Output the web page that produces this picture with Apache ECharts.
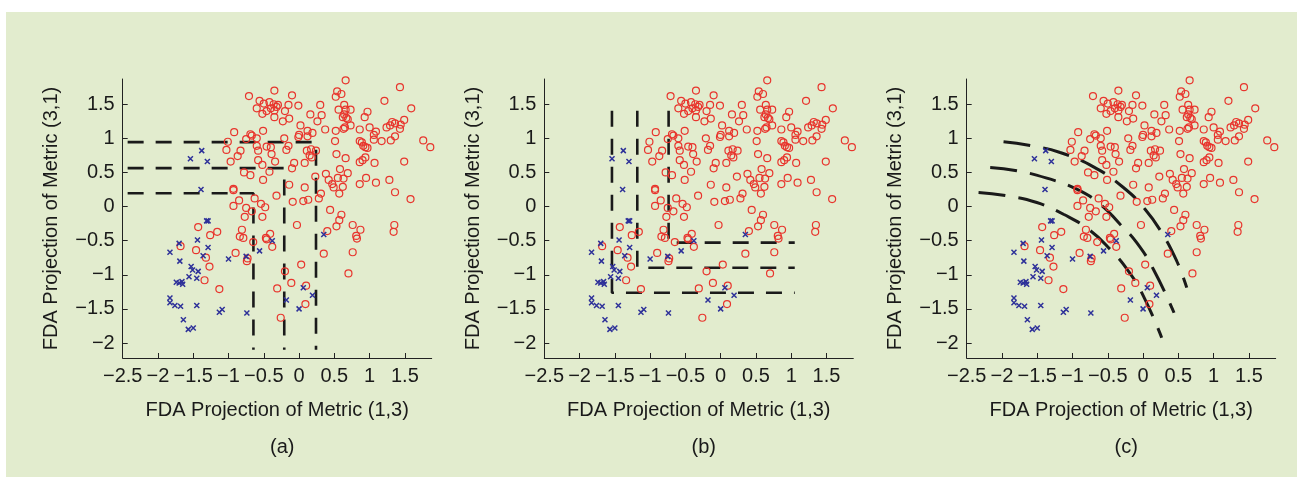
<!DOCTYPE html>
<html>
<head>
<meta charset="utf-8">
<script src="https://cdn.jsdelivr.net/npm/echarts@6/dist/echarts.min.js"></script>
<style>
  html, body { margin: 0; padding: 0; background: #fff; }
  #bg { position: absolute; left: 6px; top: 12px; width: 1291px; height: 465px; background: #e2ecce; }
  #chart { position: absolute; left: 0; top: 0; width: 1297px; height: 477px; }
</style>
</head>
<body>
<div id="bg"></div>
<div id="chart"></div>
<script>
// tick labels
const xTicks = [-2.5, -2, -1.5, -1, -0.5, 0, 0.5, 1, 1.5]
const yTicks = [-2, -1.5, -1, -0.5, 0, 0.5, 1, 1.5]
const panelNames = ['(a)', '(b)', '(c)']

// class 1 (red circles)
const redPoints = [
  [0.66,1.85],[1.43,1.75],[-0.35,1.70],[-0.71,1.62],[-0.10,1.63],[0.54,1.69],[0.60,1.65],[0.52,1.61],[1.21,1.55],[-0.56,1.55],
  [-0.50,1.51],[-0.42,1.53],[-0.36,1.50],[-0.30,1.49],[-0.32,1.46],[-0.15,1.49],[-0.01,1.48],[-0.60,1.44],[-0.52,1.36],[-0.46,1.40],
  [-0.40,1.44],[-0.35,1.41],[-0.20,1.40],[-0.35,1.31],[-0.23,1.25],[-0.14,1.29],[0.16,1.35],[0.30,1.49],[0.32,1.34],[0.26,1.25],
  [1.59,1.44],[0.56,1.42],[0.64,1.49],[0.66,1.42],[0.73,1.42],[0.64,1.35],[0.62,1.31],[0.67,1.30],[0.69,1.28],[0.73,1.19],
  [0.65,1.16],[0.63,1.14],[0.97,1.39],[0.93,1.31],[0.02,1.19],[0.37,1.13],[0.52,1.11],[0.12,1.11],[0.19,1.08],[0.12,1.03],
  [0.00,1.05],[-0.01,1.02],[0.51,0.96],[0.86,1.13],[1.00,1.16],[1.09,1.10],[1.06,1.05],[1.06,0.98],[1.17,0.96],[1.24,1.16],
  [1.32,1.24],[1.36,1.22],[1.29,1.19],[1.44,1.20],[1.43,1.14],[1.49,1.27],[1.36,1.03],[1.30,0.97],[1.76,0.97],[1.86,0.87],
  [-0.92,1.09],[-0.69,1.06],[-0.67,1.04],[-0.51,1.11],[-0.75,0.99],[-0.60,1.00],[-0.21,1.00],[0.86,0.96],[0.91,0.89],[0.94,0.87],
  [0.97,0.86],[0.89,0.94],[-1.01,0.95],[-1.03,0.83],[-0.83,0.82],[-0.87,0.74],[-0.97,0.66],[-0.60,0.89],[-0.58,0.82],[-0.46,0.88],
  [-0.40,0.87],[-0.39,0.77],[-0.15,0.89],[-0.18,0.83],[0.11,0.82],[0.17,0.84],[0.15,0.75],[0.18,0.72],[0.24,0.82],[0.53,0.77],
  [0.66,0.71],[-0.58,0.68],[-0.52,0.61],[-0.34,0.66],[-0.07,0.64],[0.08,0.64],[-0.10,0.56],[0.86,0.65],[0.90,0.68],[0.94,0.72],
  [1.07,0.64],[1.49,0.66],[-0.78,0.50],[-0.69,0.46],[-0.42,0.51],[-0.51,0.39],[-0.14,0.32],[0.23,0.44],[0.38,0.48],[0.42,0.39],
  [0.47,0.33],[0.49,0.28],[0.55,0.42],[0.63,0.41],[0.69,0.49],[0.62,0.29],[0.58,0.55],[0.95,0.42],[0.86,0.33],[1.09,0.35],
  [1.28,0.39],[-0.93,0.26],[-0.93,0.24],[0.08,0.28],[-0.32,0.16],[0.57,0.19],[1.36,0.21],[1.58,0.11],[-0.85,0.09],[-0.63,0.12],
  [-0.93,0.01],[-0.75,-0.02],[-0.67,-0.07],[-0.54,0.04],[-0.48,-0.01],[-0.52,-0.15],[-0.77,-0.15],[-0.09,0.07],[0.06,0.08],[0.13,0.10],
  [0.31,0.19],[0.28,0.12],[0.44,-0.05],[0.60,-0.12],[0.57,-0.20],[-1.43,-0.30],[-1.26,-0.42],[-1.16,-0.37],[-0.84,-0.44],[-0.81,-0.34],
  [-0.79,-0.46],[-0.65,-0.52],[-0.47,-0.46],[-0.46,-0.48],[-0.41,-0.40],[-0.38,-0.59],[-0.03,-0.27],[0.40,-0.36],[0.53,-0.29],[0.76,-0.27],
  [0.87,-0.34],[0.81,-0.43],[0.82,-0.47],[1.35,-0.27],[1.34,-0.37],[-1.68,-0.58],[-1.46,-0.64],[-1.32,-0.75],[-1.27,-0.88],[-0.90,-0.68],
  [-0.74,-0.80],[-0.73,-0.76],[0.03,-0.85],[0.35,-0.69],[0.76,-0.67],[-0.20,-0.95],[-1.34,-1.08],[-0.11,-1.12],[0.10,-1.16],[0.70,-0.98],
  [-1.13,-1.21],[-0.31,-1.20],[0.09,-1.43],[-0.26,-1.63]
]

// class 2 (blue crosses)
const bluePoints = [
  [-1.38,0.82],[-1.54,0.70],[-1.30,0.66],[-1.39,0.25],[-1.31,-0.21],[-1.29,-0.21],[-1.44,-0.49],[-1.70,-0.54],[-1.83,-0.67],[-1.29,-0.60],
  [-1.36,-0.72],[-1.69,-0.80],[-1.00,-0.77],[-0.75,-0.73],[-0.56,-0.65],[-0.38,-0.50],[0.35,-0.41],[-1.53,-0.88],[-1.51,-0.93],[-1.43,-0.95],
  [-1.56,-1.03],[-1.45,-1.05],[-1.74,-1.11],[-1.70,-1.12],[-1.66,-1.10],[-1.65,-1.14],[-1.83,-1.34],[-1.83,-1.41],[-1.76,-1.45],[-1.68,-1.46],
  [-1.45,-1.45],[-1.64,-1.66],[-1.57,-1.80],[-1.50,-1.78],[-1.13,-1.55],[-1.09,-1.51],[-0.74,-1.56],[0.06,-1.19],[0.19,-1.30],[-0.18,-1.37],[0.00,-1.50]
]

// decision boundaries
const boundsA = [
  [[-2.43,0.945],[0.24,0.945],[0.24,-2.1]],
  [[-2.43,0.563],[-0.21,0.563],[-0.21,-2.1]],
  [[-2.43,0.196],[-0.647,0.196],[-0.647,-2.1]]
]
const boundsB = [
  [[-1.541,1.405],[-1.541,-1.263],[1.05,-1.263]],
  [[-1.182,1.405],[-1.182,-0.896],[1.05,-0.896]],
  [[-0.738,1.405],[-0.738,-0.529],[1.05,-0.529]]
]
const boundsC = [
  [[-1.978,0.950],[-1.553,0.886],[-1.176,0.793],[-0.703,0.582],[-0.279,0.279],[0.028,-0.039],[0.264,-0.382],[0.477,-0.798],[0.619,-1.189]],
  [[-2.167,0.573],[-1.789,0.524],[-1.364,0.416],[-0.940,0.255],[-0.609,0.034],[-0.326,-0.259],[-0.090,-0.529],[0.146,-0.920],[0.439,-1.557]],
  [[-2.332,0.206],[-1.931,0.157],[-1.506,0.059],[-1.128,-0.113],[-0.774,-0.333],[-0.467,-0.627],[-0.208,-0.945],[0.005,-1.312],[0.264,-1.923]]
]

const chart = echarts.init(document.getElementById('chart'))

const font = 'Liberation Sans, Arial, sans-serif'
const textColor = '#1a1a1a'
const lefts = [122.7, 544.3, 966.7]
const fmt = v => String(v).replace('-', '\u2212')

const grids = [], xAxes = [], yAxes = [], titles = [], series = []
const allBounds = [boundsA, boundsB, boundsC]

lefts.forEach((left, i) => {
  grids.push({ left: left, top: 79, width: 309, height: 279 })
  xAxes.push({
    type: 'value', gridIndex: i, min: -2.5, max: 1.88,
    name: 'FDA Projection of Metric (1,3)', nameLocation: 'middle', nameGap: 42,
    nameTextStyle: { fontFamily: font, fontSize: 20, color: textColor },
    axisLine: { onZero: false, lineStyle: { color: '#222', width: 1 } },
    axisTick: { inside: true, length: 5, customValues: xTicks, lineStyle: { color: '#222' } },
    axisLabel: { customValues: xTicks, formatter: fmt, margin: 8, fontFamily: font, fontSize: 20, color: textColor },
    splitLine: { show: false }
  })
  yAxes.push({
    type: 'value', gridIndex: i, min: -2.22, max: 1.87,
    name: 'FDA Projection of Metric (3,1)', nameLocation: 'middle', nameGap: 61,
    nameTextStyle: { fontFamily: font, fontSize: 20, color: textColor },
    axisLine: { onZero: false, lineStyle: { color: '#222', width: 1 } },
    axisTick: { inside: true, length: 5, customValues: yTicks, lineStyle: { color: '#222' } },
    axisLabel: { customValues: yTicks, formatter: fmt, margin: 8, fontFamily: font, fontSize: 20, color: textColor },
    splitLine: { show: false }
  })
  titles.push({
    text: panelNames[i], left: left + 154.5, top: 432, textAlign: 'center',
    textStyle: { fontFamily: font, fontSize: 20, fontWeight: 'normal', color: textColor }
  })

  // boundaries first so the markers sit on top
  allBounds[i].forEach(b => {
    series.push({
      type: 'line', xAxisIndex: i, yAxisIndex: i, data: b,
      showSymbol: false, smooth: i === 2, silent: true, z: 1,
      lineStyle: { color: '#1a1a1a', width: i === 2 ? 3 : 2.6, type: i === 2 ? [27, 13] : [16, 12], cap: 'butt' }
    })
  })
  series.push({
    type: 'scatter', xAxisIndex: i, yAxisIndex: i, data: redPoints,
    symbol: 'circle', symbolSize: 7, z: 3,
    itemStyle: { color: 'rgba(0,0,0,0)', borderColor: '#e8352d', borderWidth: 1.2, opacity: 1 }
  })
  series.push({
    type: 'scatter', xAxisIndex: i, yAxisIndex: i, data: bluePoints,
    symbol: 'path://M0,0L10,10M0,10L10,0', symbolSize: 5, z: 3,
    itemStyle: { color: 'rgba(0,0,0,0)', borderColor: '#2e3199', borderWidth: 1.5, opacity: 1 }
  })
})

chart.setOption({
  animation: false,
  backgroundColor: 'transparent',
  title: titles,
  grid: grids,
  xAxis: xAxes,
  yAxis: yAxes,
  series: series
})
</script>
</body>
</html>
